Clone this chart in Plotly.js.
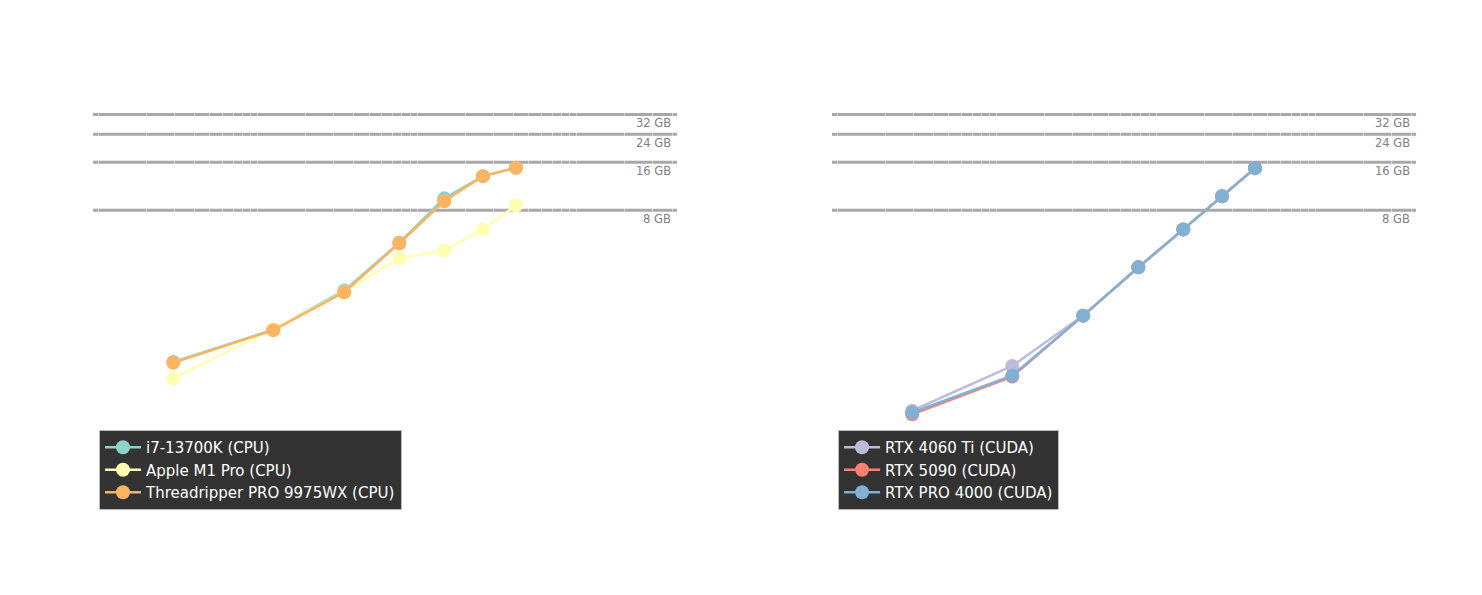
<!DOCTYPE html>
<html>
<head>
<meta charset="utf-8">
<script src="https://cdn.plot.ly/plotly-3.0.1.min.js"></script>
<style>
  html, body { margin: 0; padding: 0; background: #fff; }
  #chart { width: 1482px; height: 595px; }
</style>
</head>
<body>
<div id="chart"></div>
<script>
// problem size (log axis, hidden) and memory used in GB
var sizes = [2.95, 12.5, 34.8, 77.1, 147.5, 258, 415.7];

var cpuNames = ['i7-13700K (CPU)', 'Apple M1 Pro (CPU)', 'Threadripper PRO 9975WX (CPU)'];
var i7Mem = [0.89, 1.42, 2.50, 5.00, 9.5, 13.1, 14.8];
var m1Mem = [0.70, 1.43, 2.44, 3.99, 4.46, 6.06, 8.57];
var trMem = [0.88, 1.41, 2.44, 4.96, 9.1, 13.1, 14.8];

var gpuNames = ['RTX 4060 Ti (CUDA)', 'RTX 5090 (CUDA)', 'RTX PRO 4000 (CUDA)'];
var rtx4060Mem = [0.44, 0.84, 1.74, 3.50, 6.06, 9.78, 14.7];
var rtx5090Mem = [0.417, 0.72, 1.74, 3.50, 6.06, 9.78, 14.7];
var pro4000Mem = [0.428, 0.73, 1.74, 3.50, 6.06, 9.78, 14.7];

var memLimits = [8, 16, 24, 32];
var memLabels = ['8 GB', '16 GB', '24 GB', '32 GB'];

var colors = ['#8dd3c7', '#ffffb3', '#bebada', '#fb8072', '#80b1d3', '#fdb462'];
var FONT = '"DejaVu Sans", Verdana, sans-serif';

function series(x, y, name, color, xa, ya, leg) {
  return {
    type: 'scatter', mode: 'lines+markers',
    x: x, y: y, name: name,
    xaxis: xa, yaxis: ya, legend: leg,
    line: {color: color, width: 2.5},
    marker: {color: color, size: 14}
  };
}

var data = [
  series(sizes, i7Mem, cpuNames[0], colors[0], 'x', 'y', 'legend'),
  series(sizes, m1Mem, cpuNames[1], colors[1], 'x', 'y', 'legend'),
  series(sizes, trMem, cpuNames[2], colors[5], 'x', 'y', 'legend'),
  series(sizes, rtx4060Mem, gpuNames[0], colors[2], 'x2', 'y2', 'legend2'),
  series(sizes, rtx5090Mem, gpuNames[1], colors[3], 'x2', 'y2', 'legend2'),
  series(sizes, pro4000Mem, gpuNames[2], colors[4], 'x2', 'y2', 'legend2')
];

var shapes = [];
var annotations = [];
[['x', 'y'], ['x2', 'y2']].forEach(function (ax) {
  memLimits.forEach(function (m, i) {
    shapes.push({
      type: 'line', layer: 'below',
      xref: ax[0] + ' domain', x0: 0, x1: 1,
      yref: ax[1], y0: m, y1: m,
      line: {color: '#a8a8a8', width: 3}
    });
    annotations.push({
      xref: ax[0] + ' domain', x: 1, xanchor: 'right', xshift: -4,
      yref: ax[1], y: Math.log10(m), yanchor: 'top', yshift: 0,
      text: memLabels[i], showarrow: false,
      font: {family: FONT, size: 11.5, color: '#808080'}
    });
  });
});

function xaxis(domain, anchor) {
  return {
    type: 'log', domain: domain, anchor: anchor,
    range: [-0.033, 3.628],
    dtick: 'D1', showticklabels: false, ticks: '',
    showgrid: true, gridcolor: 'rgba(255,255,255,0.5)', gridwidth: 1,
    zeroline: false, showline: false
  };
}
function yaxis(anchor) {
  return {
    type: 'log', domain: [0.1378, 0.836], anchor: anchor,
    range: [-1, 1.611],
    showticklabels: false, ticks: '', showgrid: false,
    zeroline: false, showline: false
  };
}

var legendStyle = {
  bgcolor: '#333333', bordercolor: '#bbbbbb', borderwidth: 1,
  font: {family: FONT, color: '#ffffff', size: 15},
  xref: 'paper', yref: 'paper', xanchor: 'left', yanchor: 'bottom',
  y: 0.1429, tracegroupgap: 0, itemwidth: 36
};

var layout = {
  width: 1482, height: 595,
  margin: {l: 0, r: 0, t: 0, b: 0},
  paper_bgcolor: '#ffffff', plot_bgcolor: '#ffffff',
  font: {family: FONT, color: '#ffffff'},
  showlegend: true,
  xaxis: xaxis([0.0628, 0.4568], 'y'),
  yaxis: yaxis('x'),
  xaxis2: xaxis([0.5614, 0.9555], 'y2'),
  yaxis2: yaxis('x2'),
  legend: Object.assign({x: 0.0668}, legendStyle),
  legend2: Object.assign({x: 0.5655}, legendStyle),
  shapes: shapes,
  annotations: annotations
};

Plotly.newPlot('chart', data, layout, {displayModeBar: false, staticPlot: true});
</script>
</body>
</html>
